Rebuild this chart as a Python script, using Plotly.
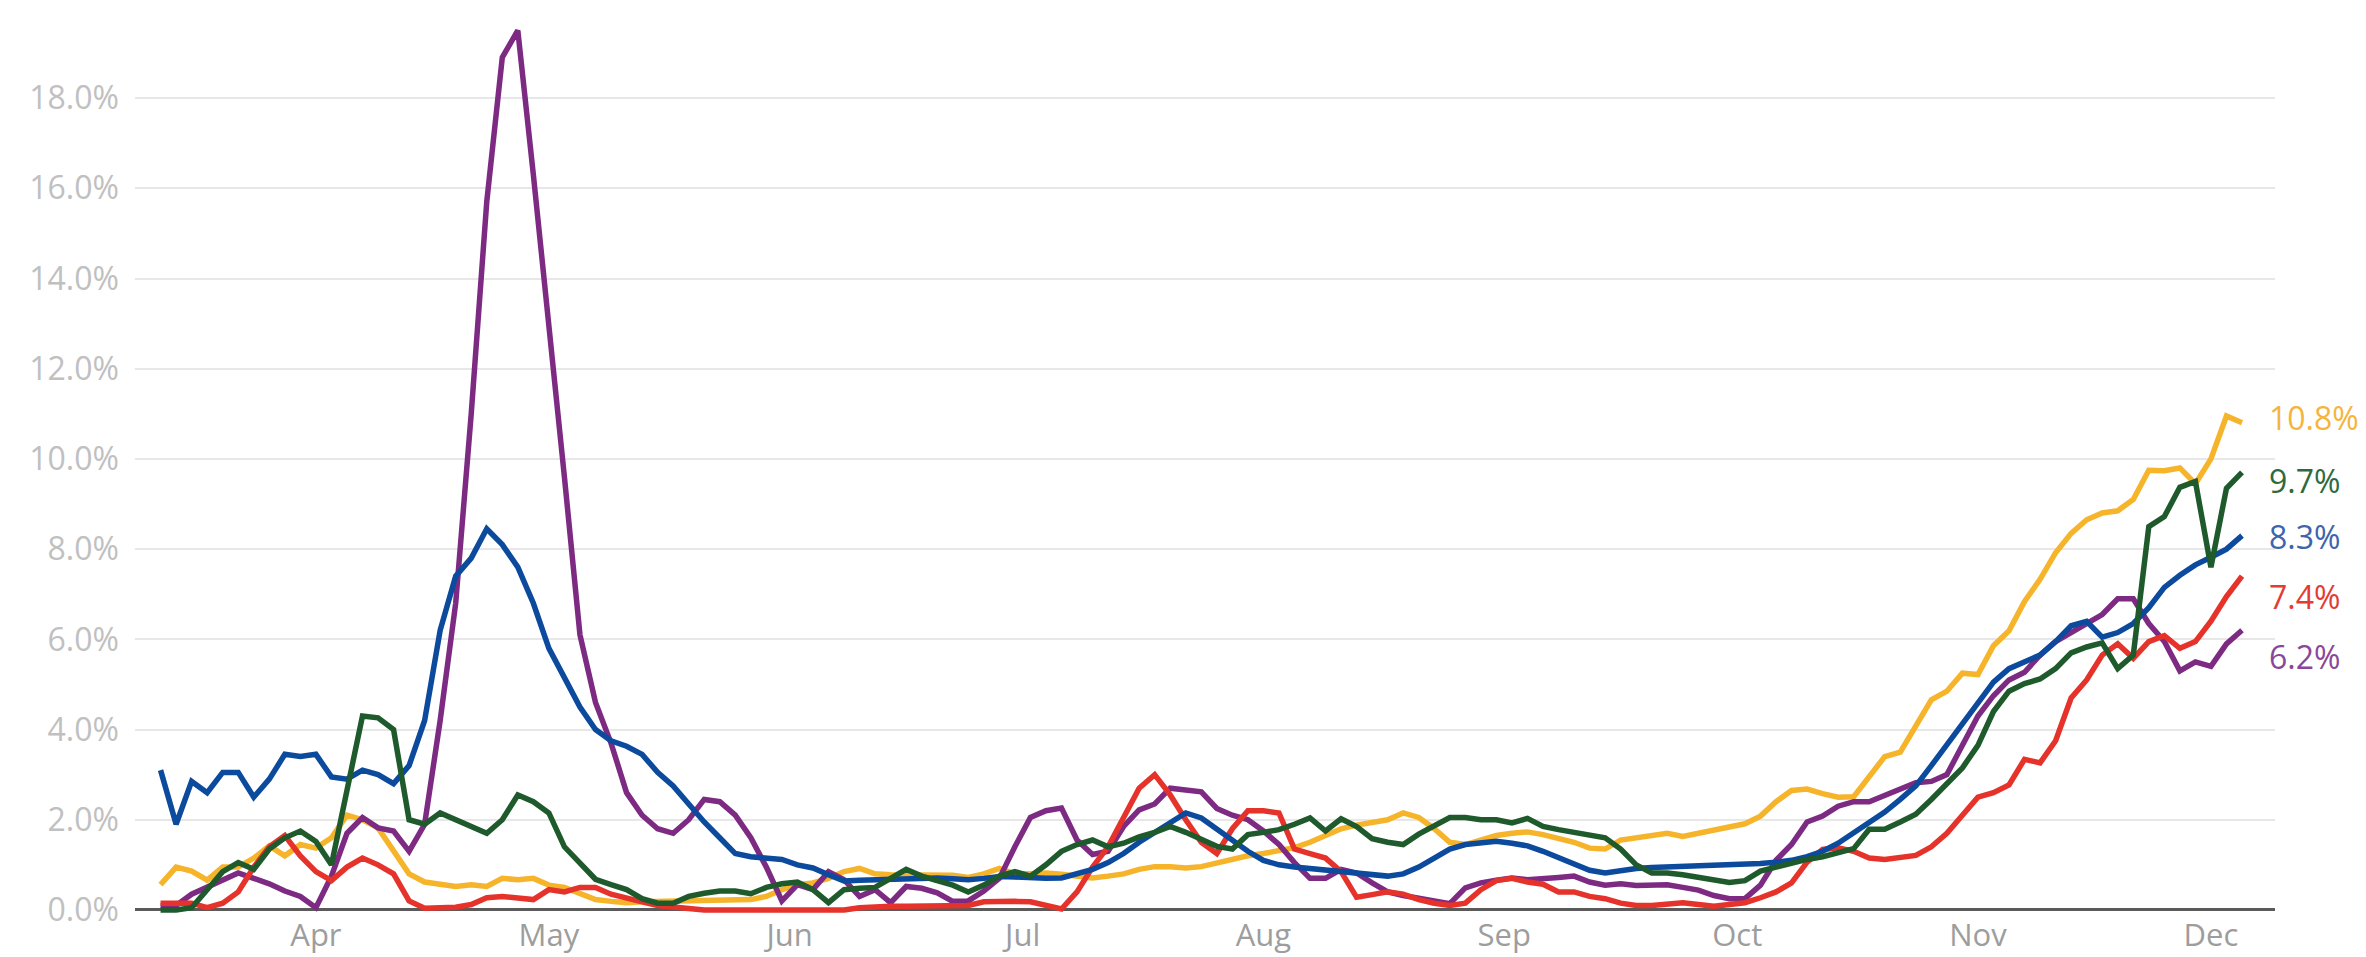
import pandas as pd
import plotly.graph_objects as go

# ---- data (2-day steps, 12 Mar 2020 .. 5 Dec 2020), values in percent ----
dates = pd.date_range("2020-03-12", periods=135, freq="2D")

yellow = [0.56, 0.95, 0.86, 0.66, 0.95, 0.95, 1.15, 1.42, 1.2, 1.45,
          1.37, 1.6, 2.1, 2.0, 1.82, 1.3, 0.8, 0.62, 0.56, 0.52,
          0.56, 0.52, 0.7, 0.67, 0.7, 0.55, 0.5, 0.35, 0.23, 0.19,
          0.16, 0.18, 0.19, 0.19, 0.2, 0.2, 0.23, 0.23, 0.23, 0.3,
          0.45, 0.56, 0.6, 0.7, 0.85, 0.92, 0.8, 0.78, 0.78, 0.75,
          0.77, 0.77, 0.72, 0.8, 0.92, 0.8, 0.8, 0.82, 0.79, 0.75,
          0.71, 0.75, 0.8, 0.9, 0.96, 0.96, 0.93, 0.96, 1.05, 1.13,
          1.2, 1.25, 1.3, 1.38, 1.5, 1.65, 1.8, 1.88, 1.95, 2.0,
          2.15, 2.05, 1.8, 1.5, 1.45, 1.55, 1.65, 1.7, 1.73, 1.67,
          1.58, 1.5, 1.37, 1.35, 1.55, 1.6, 1.65, 1.7, 1.63, 1.7,
          1.78, 1.82, 1.91, 2.08, 2.4, 2.65, 2.68, 2.58, 2.5, 2.51,
          2.95, 3.4, 3.5, 4.07, 4.66, 4.85, 5.25, 5.22, 5.86, 6.19,
          6.84, 7.33, 7.92, 8.35, 8.65, 8.8, 8.85, 9.1, 9.75, 9.74,
          9.8, 9.45, 10.0, 10.95, 10.8]

green = [0.0, 0.0, 0.05, 0.45, 0.85, 1.05, 0.9, 1.35, 1.6, 1.75,
         1.52, 1.0, 2.7, 4.3, 4.26, 4.0, 2.0, 1.9, 2.15, 2.0,
         1.85, 1.7, 2.0, 2.55, 2.4, 2.15, 1.4, 1.02, 0.68, 0.56,
         0.45, 0.25, 0.15, 0.15, 0.3, 0.37, 0.42, 0.42, 0.36, 0.5,
         0.58, 0.62, 0.45, 0.16, 0.45, 0.48, 0.5, 0.7, 0.9, 0.75,
         0.66, 0.55, 0.4, 0.55, 0.75, 0.85, 0.75, 1.0, 1.3, 1.45,
         1.55, 1.4, 1.48, 1.62, 1.72, 1.85, 1.72, 1.55, 1.41, 1.35,
         1.67, 1.72, 1.78, 1.9, 2.04, 1.75, 2.02, 1.85, 1.58, 1.5,
         1.45, 1.68, 1.85, 2.05, 2.05, 2.0, 2.0, 1.93, 2.03, 1.85,
         1.78, 1.72, 1.67, 1.6, 1.35, 1.0, 0.82, 0.82, 0.78, 0.72,
         0.65, 0.61, 0.65, 0.86, 0.95, 1.05, 1.12, 1.18, 1.28, 1.36,
         1.79, 1.79, 1.95, 2.12, 2.45, 2.78, 3.15, 3.65, 4.4, 4.85,
         5.02, 5.12, 5.35, 5.7, 5.83, 5.92, 5.35, 5.65, 8.5, 8.72,
         9.37, 9.5, 7.6, 9.35, 9.7]

blue = [3.1, 1.9, 2.85, 2.6, 3.05, 3.05, 2.5, 2.9, 3.45, 3.4,
        3.45, 2.95, 2.9, 3.1, 3.0, 2.8, 3.2, 4.2, 6.2, 7.4,
        7.8, 8.45, 8.1, 7.6, 6.8, 5.8, 5.15, 4.5, 4.0, 3.75,
        3.63, 3.45, 3.05, 2.75, 2.35, 1.95, 1.6, 1.25, 1.18, 1.15,
        1.12, 1.0, 0.93, 0.78, 0.64, 0.66, 0.67, 0.68, 0.7, 0.72,
        0.71, 0.69, 0.67, 0.7, 0.74, 0.73, 0.71, 0.7, 0.71, 0.8,
        0.9, 1.05, 1.25, 1.5, 1.72, 1.95, 2.15, 2.04, 1.8, 1.55,
        1.3, 1.1, 1.0, 0.95, 0.92, 0.88, 0.85, 0.8, 0.78, 0.75,
        0.8, 0.95, 1.15, 1.35, 1.45, 1.5, 1.52, 1.48, 1.42, 1.3,
        1.15, 1.0, 0.88, 0.82, 0.88, 0.92, 0.94, 0.95, 0.96, 0.97,
        0.98, 1.0, 1.01, 1.03, 1.06, 1.1, 1.18, 1.3, 1.48, 1.7,
        1.92, 2.17, 2.45, 2.75, 3.2, 3.65, 4.15, 4.6, 5.05, 5.35,
        5.5, 5.65, 5.95, 6.3, 6.4, 6.05, 6.15, 6.35, 6.7, 7.15,
        7.42, 7.65, 7.82, 8.0, 8.3]

red = [0.15, 0.15, 0.15, 0.05, 0.15, 0.4, 0.95, 1.4, 1.65, 1.2,
       0.85, 0.65, 0.95, 1.15, 1.0, 0.8, 0.2, 0.04, 0.04, 0.06,
       0.12, 0.27, 0.3, 0.28, 0.23, 0.45, 0.4, 0.5, 0.5, 0.35,
       0.25, 0.18, 0.1, 0.06, 0.03, 0.0, 0.0, 0.0, 0.0, 0.0,
       0.0, 0.0, 0.0, 0.0, 0.0, 0.05, 0.08, 0.08, 0.08, 0.08,
       0.07, 0.08, 0.1, 0.18, 0.2, 0.19, 0.18, 0.1, 0.02, 0.4,
       0.95, 1.4, 2.05, 2.7, 3.0, 2.55, 2.0, 1.5, 1.25, 1.8,
       2.2, 2.2, 2.15, 1.35, 1.25, 1.15, 0.85, 0.28, 0.34, 0.4,
       0.35, 0.23, 0.15, 0.1, 0.15, 0.45, 0.65, 0.7, 0.62, 0.57,
       0.4, 0.4, 0.3, 0.25, 0.15, 0.1, 0.1, 0.13, 0.16, 0.12,
       0.08, 0.12, 0.16, 0.27, 0.4, 0.6, 1.06, 1.34, 1.38, 1.3,
       1.15, 1.12, 1.18, 1.21, 1.4, 1.7, 2.1, 2.5, 2.6, 2.77,
       3.34, 3.26, 3.75, 4.7, 5.1, 5.65, 5.9, 5.58, 5.95, 6.08,
       5.8, 5.95, 6.4, 6.95, 7.4]

purple = [0.1, 0.1, 0.35, 0.5, 0.66, 0.82, 0.7, 0.58, 0.42, 0.3,
          0.05, 0.75, 1.7, 2.05, 1.82, 1.75, 1.3, 1.9, 4.2, 6.8,
          11.0, 15.7, 18.9, 19.5, 16.3, 13.0, 9.6, 6.1, 4.6, 3.7,
          2.6, 2.1, 1.8, 1.7, 2.0, 2.45, 2.4, 2.1, 1.6, 0.95,
          0.2, 0.56, 0.45, 0.85, 0.67, 0.3, 0.45, 0.16, 0.52, 0.48,
          0.38, 0.19, 0.2, 0.42, 0.7, 1.4, 2.05, 2.2, 2.26, 1.55,
          1.23, 1.3, 1.85, 2.22, 2.35, 2.7, 2.67, 2.62, 2.25, 2.1,
          2.0, 1.75, 1.45, 1.05, 0.7, 0.7, 0.9, 0.82, 0.6, 0.4,
          0.32, 0.27, 0.22, 0.14, 0.49, 0.6, 0.66, 0.71, 0.67, 0.68,
          0.72, 0.75, 0.62, 0.55, 0.58, 0.54, 0.55, 0.56, 0.5, 0.44,
          0.32, 0.25, 0.25, 0.55, 1.1, 1.45, 1.95, 2.08, 2.3, 2.4,
          2.4, 2.55, 2.68, 2.82, 2.85, 3.0, 3.65, 4.3, 4.75, 5.1,
          5.27, 5.65, 5.95, 6.15, 6.35, 6.55, 6.9, 6.9, 6.35, 5.95,
          5.3, 5.5, 5.4, 5.9, 6.2]

month_ticks = ["2020-04-01", "2020-05-01", "2020-06-01", "2020-07-01", "2020-08-01",
               "2020-09-01", "2020-10-01", "2020-11-01", "2020-12-01"]
month_labels = ["Apr", "May", "Jun", "Jul", "Aug", "Sep", "Oct", "Nov", "Dec"]
y_ticks = [0, 2, 4, 6, 8, 10, 12, 14, 16, 18]
y_labels = [f"{v:.1f}%" for v in y_ticks]

# ---- styling ----
series = [
    # name, values, line colour, label colour, label y-shift (px)
    ("yellow", yellow, "#F6B42B", "#F4B53C", 5),
    ("purple", purple, "#7D2A83", "#8B4797", -26),
    ("red", red, "#E5332B", "#E23C35", -20),
    ("blue", blue, "#0B4A9C", "#3D64AC", -1),
    ("green", green, "#1E5A2C", "#2F6A3D", -8),
]

fig = go.Figure()
for name, vals, col, _, _ in series:
    fig.add_trace(go.Scatter(x=dates, y=vals, mode="lines", name=name,
                             line=dict(color=col, width=5.5), hoverinfo="skip"))

for name, vals, _, lcol, ys in series:
    fig.add_annotation(x=1, xref="paper", xanchor="left", xshift=-8,
                       y=vals[-1], yref="y", yanchor="middle", yshift=ys,
                       text=f"{vals[-1]:.1f}%", showarrow=False,
                       font=dict(family="Open Sans", size=32, color=lcol))

fig.update_layout(
    width=2366, height=957,
    margin=dict(l=127, r=99, t=8, b=51),
    paper_bgcolor="white", plot_bgcolor="white",
    showlegend=False,
    font=dict(family="Open Sans", size=32, color="#aaaaaa"),
)
fig.update_xaxes(
    range=["2020-03-08 17:00", "2020-12-09 06:00"],
    tickvals=month_ticks, ticktext=month_labels,
    showgrid=False, zeroline=False, showline=False, ticks="",
    tickfont=dict(family="Open Sans", size=31, color="#9d9d9d"),
    automargin=False,
)
fig.update_yaxes(
    range=[-0.09, 19.82],
    tickvals=y_ticks, ticktext=y_labels,
    showgrid=True, gridcolor="#e7e7e7", gridwidth=2,
    zeroline=True, zerolinecolor="#5a5a5a", zerolinewidth=2.5,
    showline=False, ticks="",
    tickfont=dict(family="Open Sans", size=32, color="#c0c0c0"),
    ticklabelstandoff=15, automargin=False,
)

fig.write_html("out.html")
